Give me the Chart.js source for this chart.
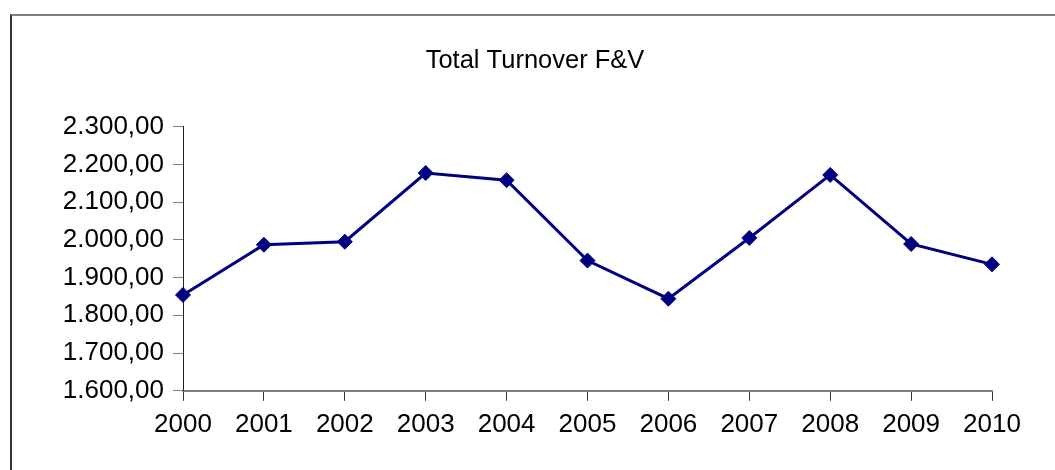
<!DOCTYPE html>
<html>
<head>
<meta charset="utf-8">
<script src="https://cdn.jsdelivr.net/npm/chart.js@4/dist/chart.umd.min.js"></script>
<style>
  html, body { margin: 0; padding: 0; background: #fff; }
  #frame {
    position: absolute; left: 10px; top: 14px;
    width: 1043px; height: 454px;
    border-top: 2px solid #808080;
    border-left: 2px solid #333;
  }
  #wrap { position: absolute; left: 0; top: 0; width: 1043px; height: 454px; }
</style>
</head>
<body>
<div id="frame"><div id="wrap"><canvas id="turnoverChart"></canvas></div></div>
<script>
// Data
const years = ['2000', '2001', '2002', '2003', '2004', '2005', '2006', '2007', '2008', '2009', '2010'];
const turnover = [1854, 1987, 1995, 2177, 2158, 1945, 1844, 2005, 2172, 1989, 1935];
const yTicks = [1600, 1700, 1800, 1900, 2000, 2100, 2200, 2300];

// 2300 -> "2.300,00"
function fmt(v) {
  const parts = v.toFixed(2).split('.');
  const intPart = parts[0].replace(/\B(?=(\d{3})+(?!\d))/g, '.');
  return intPart + ',' + parts[1];
}

const font = "'Liberation Sans', Arial, sans-serif";

const ctx = document.getElementById('turnoverChart').getContext('2d');
new Chart(ctx, {
  type: 'line',
  data: {
    labels: years,
    datasets: [{
      data: turnover,
      borderColor: '#000080',
      backgroundColor: '#000080',
      borderWidth: 3,
      pointStyle: 'rectRot',
      pointRadius: 7.5,
      pointBorderWidth: 1,
      pointBackgroundColor: '#000080',
      pointBorderColor: '#000080',
      tension: 0
    }]
  },
  options: {
    responsive: true,
    maintainAspectRatio: false,
    animation: false,
    layout: { padding: { left: 3, right: 0, top: 0, bottom: 22 } },
    plugins: {
      legend: { display: false },
      tooltip: { enabled: false },
      title: {
        display: true,
        text: 'Total Turnover F&V',
        color: '#000',
        font: { family: font, size: 25.5, weight: 'normal' },
        padding: { top: 30, bottom: 50 }
      }
    },
    scales: {
      x: {
        offset: false,
        border: { display: true, color: '#808080', width: 2 },
        grid: { drawOnChartArea: false, drawTicks: true, tickLength: 10, color: '#333' },
        ticks: { color: '#000', padding: 8, maxRotation: 0, font: { family: font, size: 26 } }
      },
      y: {
        min: 1600,
        max: 2300,
        afterBuildTicks: (scale) => { scale.ticks = yTicks.map(v => ({ value: v })); },
        afterFit: (scale) => { scale.width = 168; },
        border: { display: true, color: '#222', width: 1 },
        grid: { drawOnChartArea: false, drawTicks: true, tickLength: 10, color: '#808080' },
        ticks: { color: '#000', padding: 9, font: { family: font, size: 26 }, callback: (v) => fmt(v) }
      },
      // empty right-hand spacer so the plot ends where the reference does
      spacer: {
        position: 'right',
        display: true,
        border: { display: false },
        grid: { display: false },
        ticks: { display: false },
        afterFit: (scale) => { scale.width = 63; }
      }
    }
  }
});
</script>
</body>
</html>
